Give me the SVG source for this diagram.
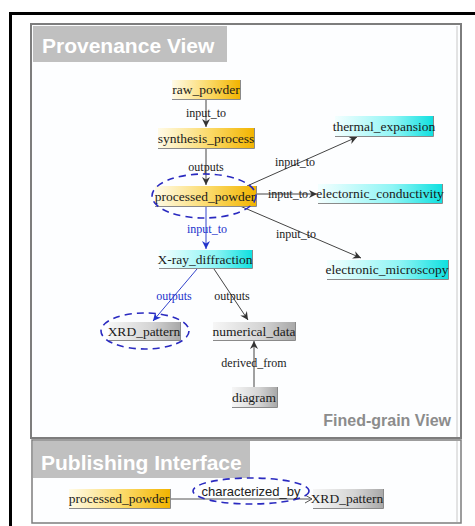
<svg xmlns="http://www.w3.org/2000/svg" width="475" height="526" viewBox="0 0 475 526">
<defs>
<linearGradient id="gy" x1="0" y1="0" x2="1" y2="0"><stop offset="0" stop-color="#fffbe8"/><stop offset="0.55" stop-color="#fbd966"/><stop offset="1" stop-color="#f2b400"/></linearGradient>
<linearGradient id="gc" x1="0" y1="0" x2="1" y2="0"><stop offset="0" stop-color="#f4ffff"/><stop offset="0.6" stop-color="#8ff5f5"/><stop offset="1" stop-color="#10e0e0"/></linearGradient>
<linearGradient id="gg" x1="0" y1="0" x2="1" y2="0"><stop offset="0" stop-color="#f6f6f6"/><stop offset="0.6" stop-color="#d4d4d4"/><stop offset="1" stop-color="#a9a9a9"/></linearGradient>
<marker id="ak" markerWidth="10" markerHeight="10" refX="8" refY="4" orient="auto" markerUnits="userSpaceOnUse"><path d="M0,0 L8,4 L0,8 L2.5,4 Z" fill="#333"/></marker>
<marker id="ab" markerWidth="10" markerHeight="10" refX="8" refY="4" orient="auto" markerUnits="userSpaceOnUse"><path d="M0,0 L8,4 L0,8 L2.5,4 Z" fill="#2233cc"/></marker>
<marker id="ao" markerWidth="10" markerHeight="10" refX="7" refY="4" orient="auto" markerUnits="userSpaceOnUse"><path d="M0,0 L7,4 L0,8" fill="none" stroke="#555" stroke-width="1"/></marker>
</defs>
<style>
.nt{font-family:'Liberation Serif','Times New Roman',serif;font-size:13.5px;fill:#1a1a1a;text-anchor:middle}
.el{font-family:'Liberation Serif','Times New Roman',serif;font-size:12px;fill:#222;text-anchor:middle}
.eb{font-family:'Liberation Serif','Times New Roman',serif;font-size:12px;fill:#2233cc;text-anchor:middle}
.e{stroke:#444;stroke-width:1;fill:none}
.b{stroke:#3344cc;stroke-width:1;fill:none}
.nb{fill:none;stroke:#8a8a8a;stroke-width:1}
.ell{fill:none;stroke:#2a2ac0;stroke-width:1.6;stroke-dasharray:7,5}
.hd{font-family:'Liberation Sans',Arial,sans-serif;font-weight:bold;fill:#ffffff}
</style>
<rect x="0" y="0" width="475" height="526" fill="#ffffff"/>
<path d="M10.5,526 V13.5 H475" fill="none" stroke="#000" stroke-width="3"/>
<g id="provenance-panel">
<rect x="31" y="24" width="430" height="414" fill="#fdfeff" stroke="#7d7d7d" stroke-width="2"/>
<line x1="457" y1="26" x2="457" y2="437" stroke="#c8c8c8" stroke-width="1"/>
<rect x="33" y="26" width="194" height="36" fill="#c0c0c0"/>
<text x="42" y="53" class="hd" font-size="21">Provenance View</text>
<text x="451" y="426" font-family="'Liberation Sans',Arial,sans-serif" font-weight="bold" font-size="16" fill="#8c8c8c" text-anchor="end">Fined-grain View</text>
</g>
<g id="publishing-panel">
<rect x="32" y="440" width="429" height="83" fill="#fdfeff" stroke="#7d7d7d" stroke-width="1.5"/>
<line x1="457" y1="441" x2="457" y2="522" stroke="#c8c8c8" stroke-width="1"/>
<rect x="33" y="441" width="217" height="37" fill="#c0c0c0"/>
<text x="41" y="470" class="hd" font-size="21">Publishing Interface</text>
</g>
<g id="connectors">
<line x1="206" y1="99" x2="206" y2="127" class="e" marker-end="url(#ak)"/>
<text x="206" y="117" class="el">input_to</text>
<line x1="206" y1="148" x2="206" y2="185" class="e" marker-end="url(#ak)"/>
<text x="206" y="171" class="el">outputs</text>
<line x1="247" y1="186" x2="357" y2="137" class="e" marker-end="url(#ak)"/>
<text x="295" y="166" class="el">input_to</text>
<line x1="256" y1="194" x2="317" y2="194" class="e" marker-end="url(#ak)"/>
<text x="288" y="198" class="el">input_to</text>
<line x1="240" y1="206" x2="361" y2="258" class="e" marker-end="url(#ak)"/>
<text x="296" y="238" class="el">input_to</text>
<line x1="206" y1="206" x2="206" y2="249" class="b" marker-end="url(#ab)"/>
<text x="207" y="233" class="eb">input_to</text>
<line x1="197" y1="269" x2="153" y2="321" class="b" marker-end="url(#ab)"/>
<text x="174" y="300" class="eb">outputs</text>
<line x1="214" y1="269" x2="248" y2="320" class="e" marker-end="url(#ak)"/>
<text x="232" y="300" class="el">outputs</text>
<line x1="254" y1="387" x2="254" y2="341" class="e" marker-end="url(#ak)"/>
<text x="254" y="367" class="el">derived_from</text>
<line x1="170" y1="499" x2="312" y2="499" stroke="#555" stroke-width="1" marker-end="url(#ao)"/>
</g>
<g id="raw_powder"><rect x="172" y="80" width="68" height="19" fill="url(#gy)"/><path d="M172,99.5 H240.5 V80" class="nb"/><text x="206" y="94" class="nt">raw_powder</text></g>
<g id="synthesis_process"><rect x="158" y="128" width="96" height="20" fill="url(#gy)"/><path d="M158,148.5 H254.5 V128" class="nb"/><text x="206" y="143" class="nt">synthesis_process</text></g>
<g id="processed_powder"><rect x="155" y="186" width="101" height="20" fill="url(#gy)"/><path d="M155,206.5 H256.5 V186" class="nb"/><text x="205" y="201" class="nt">processed_powder</text><ellipse cx="204" cy="196" rx="52" ry="22" class="ell"/></g>
<g id="thermal_expansion"><rect x="335" y="116" width="98" height="20" fill="url(#gc)"/><path d="M335,136.5 H433.5 V116" class="nb"/><text x="384" y="131" class="nt">thermal_expansion</text></g>
<g id="electornic_conductivity"><rect x="318" y="184" width="124" height="19" fill="url(#gc)"/><path d="M318,203.5 H442.5 V184" class="nb"/><text x="380" y="198" class="nt">electornic_conductivity</text></g>
<g id="electronic_microscopy"><rect x="327" y="260" width="121" height="19" fill="url(#gc)"/><path d="M327,279.5 H448.5 V260" class="nb"/><text x="387" y="274" class="nt">electronic_microscopy</text></g>
<g id="X-ray_diffraction"><rect x="159" y="250" width="93" height="18" fill="url(#gc)"/><path d="M159,268.5 H252.5 V250" class="nb"/><text x="205" y="264" class="nt">X-ray_diffraction</text></g>
<g id="XRD_pattern"><rect x="109" y="322" width="71" height="18" fill="url(#gg)"/><path d="M109,340.5 H180.5 V322" class="nb"/><text x="144" y="336" class="nt">XRD_pattern</text><ellipse cx="145" cy="331" rx="44" ry="18" class="ell"/></g>
<g id="numerical_data"><rect x="213" y="322" width="82" height="18" fill="url(#gg)"/><path d="M213,340.5 H295.5 V322" class="nb"/><text x="254" y="336" class="nt">numerical_data</text></g>
<g id="diagram"><rect x="232" y="387" width="45" height="20" fill="url(#gg)"/><path d="M232,407.5 H277.5 V387" class="nb"/><text x="254" y="402" class="nt">diagram</text></g>
<g id="pub_processed_powder"><rect x="69" y="489" width="101" height="19" fill="url(#gy)"/><path d="M69,508.5 H170.5 V489" class="nb"/><text x="119" y="503" class="nt">processed_powder</text></g>
<g id="pub_XRD_pattern"><rect x="313" y="489" width="70" height="19" fill="url(#gg)"/><path d="M313,508.5 H383.5 V489" class="nb"/><text x="347" y="503" class="nt">XRD_pattern</text></g>
<g id="characterized_by"><ellipse cx="251" cy="491" rx="58" ry="13" class="ell"/><text x="251" y="496" font-family="'Liberation Sans',Arial,sans-serif" font-size="13" fill="#222" text-anchor="middle">characterized_by</text></g>
</svg>
